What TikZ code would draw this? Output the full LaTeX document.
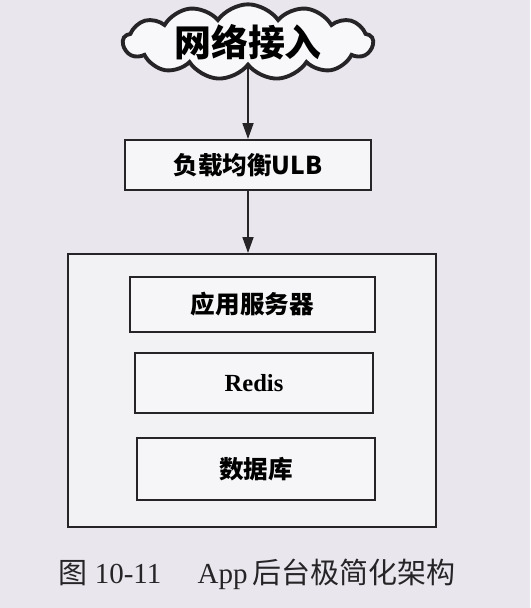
\documentclass[tikz,border=0pt]{standalone}
\usepackage{fontspec}
\setmainfont{Liberation Serif}
\newfontfamily\cjkhei{Noto Sans CJK SC}
\newfontfamily\cjksong{Noto Sans CJK SC}
\usetikzlibrary{arrows.meta,positioning,shapes.symbols}
\definecolor{paper}{HTML}{E9E7ED}
\definecolor{ink}{HTML}{262426}
\begin{document}
\begin{tikzpicture}[
		cloudbox/.style={cloud,cloud puffs=13,cloud puff arc=110,aspect=4.2,draw=ink,line width=2.2pt,fill=white!70!paper,minimum width=5cm,minimum height=1.3cm,inner sep=0pt,font=\cjkhei\bfseries\fontsize{21}{24}\selectfont},
		blk/.style={draw=ink,line width=1.1pt,fill=white!60!paper,minimum height=1cm,inner sep=2pt,font=\cjkhei\bfseries\fontsize{14}{16}\selectfont},
		frame/.style={draw=ink,line width=1.1pt,fill=white!40!paper},
		flow/.style={-{Triangle[length=3.2mm,width=2.2mm]},ink,line width=1pt},
		captext/.style={font=\fontsize{16.5}{19}\selectfont,text=ink}
		]
		\fill[paper] (0,0) rectangle (10.6,12.16);
		\useasboundingbox (0,0) rectangle (10.6,12.16);
		
		\node[cloudbox] (net) at (4.96,11.32) {网络接入};
		\node[blk,minimum width=4.92cm] (ulb) at (4.96,8.86) {负载均衡ULB};
		\node[frame,minimum width=7.36cm,minimum height=5.46cm] (host) at (5.04,4.35) {};
		\node[blk,minimum width=4.9cm,minimum height=1.1cm] (app) at (5.05,6.07) {应用服务器};
		\node[blk,minimum width=4.76cm,minimum height=1.2cm,font=\bfseries\fontsize{14}{16}\selectfont] (redis) at (5.08,4.5) {Redis};
		\node[blk,minimum width=4.76cm,minimum height=1.24cm] (db) at (5.12,2.78) {数据库};
		
		\draw[flow] (net.south) -- (ulb.north);
		\draw[flow] (ulb.south) -- (ulb.south |- host.north);
		
		\node[captext] (title) at (5.14,0.68) {{\cjksong 图}\ 10-11\quad\ App\,{\cjksong 后台极简化架构}};
	\end{tikzpicture}
\end{document}
